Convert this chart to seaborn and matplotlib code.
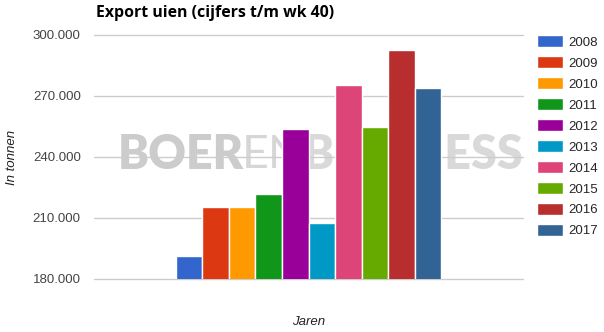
import matplotlib
matplotlib.use("Agg")
import matplotlib.pyplot as plt
import seaborn as sns
import pandas as pd
from matplotlib.ticker import FuncFormatter

years = ["2008", "2009", "2010", "2011", "2012", "2013", "2014", "2015", "2016", "2017"]
export = [191300, 215400, 215400, 221800, 253800, 207500, 275400, 254800, 292600, 273900]
colors = ["#3366CC", "#DC3912", "#FF9900", "#109618", "#990099",
          "#0099C6", "#DD4477", "#66AA00", "#B82E2E", "#316395"]
yticks = [180000, 210000, 240000, 270000, 300000]

df = pd.DataFrame({"cat": [""] * len(years), "jaar": years, "export": export})

sns.set_theme(style="white")
plt.rcParams["font.family"] = ["Liberation Sans", "DejaVu Sans"]

W, H = 604, 332
fig = plt.figure(figsize=(W / 100, H / 100), dpi=100)
ax = fig.add_axes([94 / W, (H - 279) / H, (523 - 94) / W, (279 - 35) / H])

sns.barplot(data=df, x="cat", y="export", hue="jaar", hue_order=years,
            palette=colors, width=0.62, ax=ax, edgecolor="white", linewidth=1,
            saturation=1, legend=True)

ax.set_ylim(180000, 300000)
ax.set_xlim(-0.5, 0.5)
ax.set_yticks(yticks)
ax.yaxis.set_major_formatter(FuncFormatter(lambda v, p: f"{int(v):,}".replace(",", ".")))
ax.tick_params(axis="y", length=0, pad=9.5, labelsize=9.5, labelcolor="#444444")
ax.set_xticks([])
ax.grid(axis="y", color="#cccccc", linewidth=1)
ax.set_axisbelow(True)
for gl in ax.get_ygridlines():
    gl.set_clip_on(False)
for s in ax.spines.values():
    s.set_visible(False)
ax.set_ylabel("")
ax.set_xlabel("")


def px(x, y):
    return x / W, 1 - y / H


# watermark (behind grid and bars), pieces chained left to right
fig.canvas.draw()
renderer = fig.canvas.get_renderer()
fs = 33.5
wm = [("BOER", "heavy", "#cccccc"),
      ("EN", "normal", "#d6d6d6"),
      ("BUSINESS", "heavy", "#d9d9d9")]
xcur = 118
for txt, wt, col in wm:
    t = ax.text(*px(xcur, 155), txt, transform=fig.transFigure, fontsize=fs,
                fontweight=wt, color=col, family="Lato", va="center", ha="left",
                zorder=0.2, clip_on=False)
    bb = t.get_window_extent(renderer=renderer)
    xcur = bb.x1 - 2

fig.text(*px(96, 13), "Export uien (cijfers t/m wk 40)", fontsize=11.4,
         fontweight="bold", family=["Open Sans", "DejaVu Sans"], color="#000000",
         va="center", ha="left")
fig.text(*px(12, 157), "In tonnen", fontsize=9.5, style="italic", rotation=90,
         color="#222222", va="center", ha="center")
fig.text(*px(309, 322), "Jaren", fontsize=9.5, style="italic",
         color="#222222", va="center", ha="center")

sns.move_legend(ax, "upper left", bbox_to_anchor=px(537, 35.5),
                bbox_transform=fig.transFigure, frameon=False, title=None,
                fontsize=9.5, handlelength=2.0, handleheight=1.0,
                labelspacing=0.57, handletextpad=0.4, borderpad=0, borderaxespad=0)

fig.savefig("out.png", dpi=100, facecolor="white")
